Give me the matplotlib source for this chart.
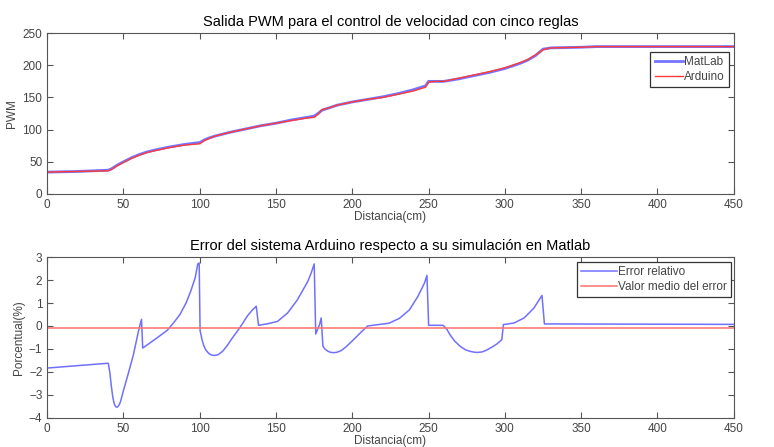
import matplotlib
matplotlib.use("Agg")
import matplotlib.pyplot as plt
import numpy as np

# PWM output vs distance
pwm_x = [0, 20, 40, 42, 46, 50, 55, 60, 65, 70, 80, 90, 100, 103, 106, 110, 120, 130,
         140, 150, 160, 170, 175, 178, 180, 185, 190, 200, 210, 220, 230, 240, 248,
         250, 255, 260, 270, 280, 290, 300, 305, 310, 315, 320, 325, 330, 350, 360, 450]
pwm_matlab = [34, 35, 37, 39, 45, 50, 56, 61, 65, 68, 73, 77, 80, 84, 87, 90, 96, 101,
              106, 110, 115, 119, 121, 126, 130, 134, 138, 143, 147, 151, 156, 162, 168,
              175, 175, 175, 179, 184, 189, 195, 199, 203, 208, 215, 225, 227, 228, 229, 229]
pwm_arduino = [34, 35, 36, 38, 44, 49, 55, 60, 64, 67, 72, 76, 78, 83, 86, 90, 96, 101,
               106, 110, 114, 118, 119, 125, 131, 134, 138, 143, 147, 150, 155, 160, 166,
               174, 175, 175, 180, 185, 190, 196, 200, 204, 209, 216, 224, 227, 228, 229, 229]

# relative error (%) vs distance
err_x = [0, 40, 41, 42, 43, 44, 45, 46, 47, 48, 50, 53, 56.5, 59.8, 61.8, 62.6, 66, 71.9,
         78.5, 83, 87, 91, 94, 97, 98.7, 99.6, 100.2, 101.5, 102.6, 104, 106, 108, 110,
         112, 115, 118, 121, 124.6, 128, 131, 134, 137, 138.5, 144, 151, 157.6, 164, 170.8,
         173, 175, 176, 178.5, 179.6, 180.7, 182, 184, 186, 188, 190, 192.7, 196, 201.5,
         206, 210, 217, 224, 230.8, 237.4, 243, 247.3, 248.9, 250, 259.5, 262, 264, 267,
         270.6, 274, 277, 280, 282, 285, 288, 292, 295, 298, 299, 306, 312.6, 319,
         324.3, 325.9, 450]
err_val = [-1.83, -1.62, -2.0, -2.6, -3.1, -3.4, -3.52, -3.53, -3.45, -3.3, -2.8, -2.1,
           -1.25, -0.23, 0.29, -0.96, -0.8, -0.52, -0.2, 0.15, 0.5, 1.0, 1.5, 2.1, 2.7,
           2.74, -0.2, -0.6, -0.85, -1.05, -1.2, -1.27, -1.28, -1.25, -1.1, -0.85, -0.55,
           -0.23, 0.1, 0.42, 0.66, 0.86, 0.03, 0.09, 0.2, 0.57, 1.14, 1.94, 2.3, 2.7, -0.35,
           0.06, 0.35, -0.88, -1.0, -1.1, -1.15, -1.16, -1.14, -1.07, -0.9, -0.55, -0.25,
           0.0, 0.06, 0.12, 0.33, 0.7, 1.29, 1.87, 2.2, 0.03, 0.03, -0.15, -0.38, -0.65,
           -0.88, -1.03, -1.1, -1.14, -1.15, -1.13, -1.05, -0.9, -0.77, -0.59, 0.06, 0.13,
           0.35, 0.78, 1.33, 0.09, 0.07]
err_mean = -0.07

plt.rcParams["font.family"] = ["Liberation Sans", "DejaVu Sans"]
grey = "#555555"

fig = plt.figure(figsize=(7.74, 4.47), dpi=100)
ax1 = fig.add_axes([0.061, 0.566, 0.887, 0.360])
ax2 = fig.add_axes([0.061, 0.065, 0.887, 0.360])


def style(ax):
    for s in ax.spines.values():
        s.set_color(grey)
    ax.tick_params(direction="in", top=True, right=True, colors=grey,
                   labelcolor="#444444", labelsize=8.5, length=4)


def style_legend(leg):
    leg.get_frame().set_edgecolor("#333333")
    leg.get_frame().set_linewidth(0.9)
    for t in leg.get_texts():
        t.set_color("#444444")


ax1.plot(pwm_x, pwm_matlab, color="#7474ff", lw=2.0, label="MatLab")
ax1.plot(pwm_x, pwm_arduino, color="#ff3a3a", lw=1.0, label="Arduino")
ax1.set_xlim(0, 450)
ax1.set_ylim(0, 250)
ax1.set_xticks(np.arange(0, 451, 50))
ax1.set_yticks(np.arange(0, 251, 50))
ax1.set_title("Salida PWM para el control de velocidad con cinco reglas", fontsize=10.5, pad=5)
ax1.set_xlabel("Distancia(cm)", fontsize=8.5, color="#444444", labelpad=0)
ax1.set_ylabel("PWM", fontsize=8.5, color="#444444", labelpad=3)
style(ax1)
leg = ax1.legend(loc="upper right", bbox_to_anchor=(0.993, 0.882), fontsize=8.5,
                 fancybox=False, framealpha=1, borderpad=0.35, handlelength=2.4,
                 handletextpad=0.1, labelspacing=0.25, borderaxespad=0)
style_legend(leg)

ax2.plot(err_x, err_val, color="#7070ff", lw=1.1, label="Error relativo")
ax2.plot([0, 450], [err_mean, err_mean], color="#ff7070", lw=1.1,
         label="Valor medio del error")
ax2.set_xlim(0, 450)
ax2.set_ylim(-4, 3)
ax2.set_xticks(np.arange(0, 451, 50))
ax2.set_yticks(np.arange(-4, 4, 1))
ax2.set_title("Error del sistema Arduino respecto a su simulación en Matlab", fontsize=10.5, pad=5)
ax2.set_xlabel("Distancia(cm)", fontsize=8.5, color="#444444", labelpad=0)
ax2.set_ylabel("Porcentual(%)", fontsize=8.5, color="#444444", labelpad=3)
style(ax2)
leg2 = ax2.legend(loc="upper right", bbox_to_anchor=(0.996, 0.97), fontsize=8.5,
                  fancybox=False, framealpha=1, borderpad=0.35, handlelength=3.0,
                  handletextpad=0.1, labelspacing=0.25, borderaxespad=0)
style_legend(leg2)

fig.savefig("out.png", dpi=100)
